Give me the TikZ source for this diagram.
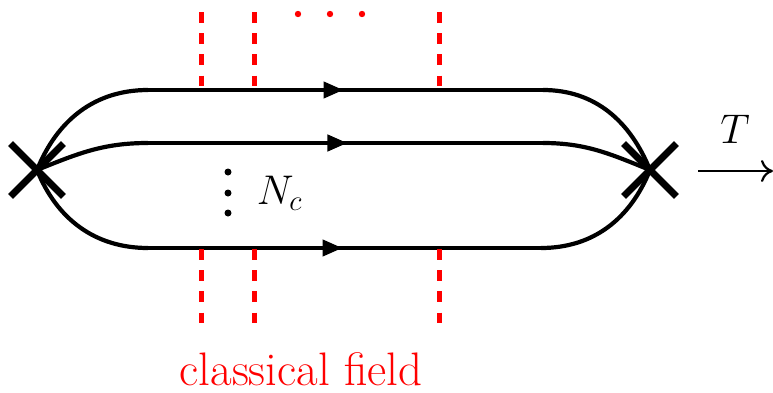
\documentclass[tikz,border=0pt]{standalone}
\usetikzlibrary{arrows.meta, positioning, shapes.misc, decorations.markings}

\begin{document}
\begin{tikzpicture}[
    x=0.5pt, y=-0.5pt,
    quark/.style={line width=2.1pt, black},
    vertex/.style={cross out, draw=black, line width=3.4pt,
                   minimum size=23pt, inner sep=0pt},
    midarrow/.style={postaction={decorate}, decoration={markings,
                 mark=at position #1 with {\arrow{Triangle[length=10pt, width=8pt]}}}},
    field/.style={red, line width=2.5pt, dash pattern=on 5.3pt off 5.3pt},
    fielddot/.style={circle, fill=red, inner sep=0pt, minimum size=3.2pt},
    ncdot/.style={circle, fill=black, inner sep=0pt, minimum size=3.5pt},
  ]
    \useasboundingbox (0,0) rectangle (773,392);

    % vertices
    \node[vertex] (L) at (37,170) {};
    \node[vertex] (R) at (650,170) {};

    % straight parts of the lines
    \coordinate (t1) at (148,90);   \coordinate (t2) at (543,90);
    \coordinate (m1) at (148,143);  \coordinate (m2) at (543,143);
    \coordinate (b1) at (148,248);  \coordinate (b2) at (541,248);

    % quark lines
    \draw[quark] (L.center) to[out=68,in=180] (t1);
    \draw[quark, midarrow=0.495] (t1) -- (t2);
    \draw[quark] (t2) to[out=0,in=112] (R.center);

    \draw[quark] (L.center) to[out=22,in=180] (m1);
    \draw[quark, midarrow=0.505] (m1) -- (m2);
    \draw[quark] (m2) to[out=0,in=158] (R.center);

    \draw[quark] (L.center) to[out=-68,in=180] (b1);
    \draw[quark, midarrow=0.495] (b1) -- (b2);
    \draw[quark] (b2) to[out=0,in=-112] (R.center);

    % classical field insertions
    \foreach \x/\n in {201/a, 254/b, 439/c} {
      \coordinate (up\n) at (\x,12);
      \coordinate (dn\n) at (\x,249);
      \draw[field] (up\n) -- (\x,87);
      \draw[field] (dn\n) -- (\x,324);
    }
    \foreach \x/\n in {298/1, 330/2, 362/3}
      \node[fielddot] (fd\n) at (\x,14) {};

    % colour multiplicity
    \foreach \y/\n in {172/1, 193/2, 213/3}
      \node[ncdot] (nd\n) at (228,\y) {};
    \node[font=\fontsize{21}{25}\selectfont, right=9pt of nd2] (Nc) {$N_c$};

    % time direction
    \coordinate (ta) at (698,171);
    \coordinate (tb) at (773,171);
    \draw[line width=1.1pt, -{To[length=6pt, width=11pt]}] (ta) -- (tb);
    \node[font=\fontsize{21}{25}\selectfont, anchor=base] (T) at (735,143) {$T$};

    \node[red, font=\fontsize{23.5}{28}\selectfont, anchor=base] (cf) at (301,385) {classical field};
  \end{tikzpicture}
\end{document}
